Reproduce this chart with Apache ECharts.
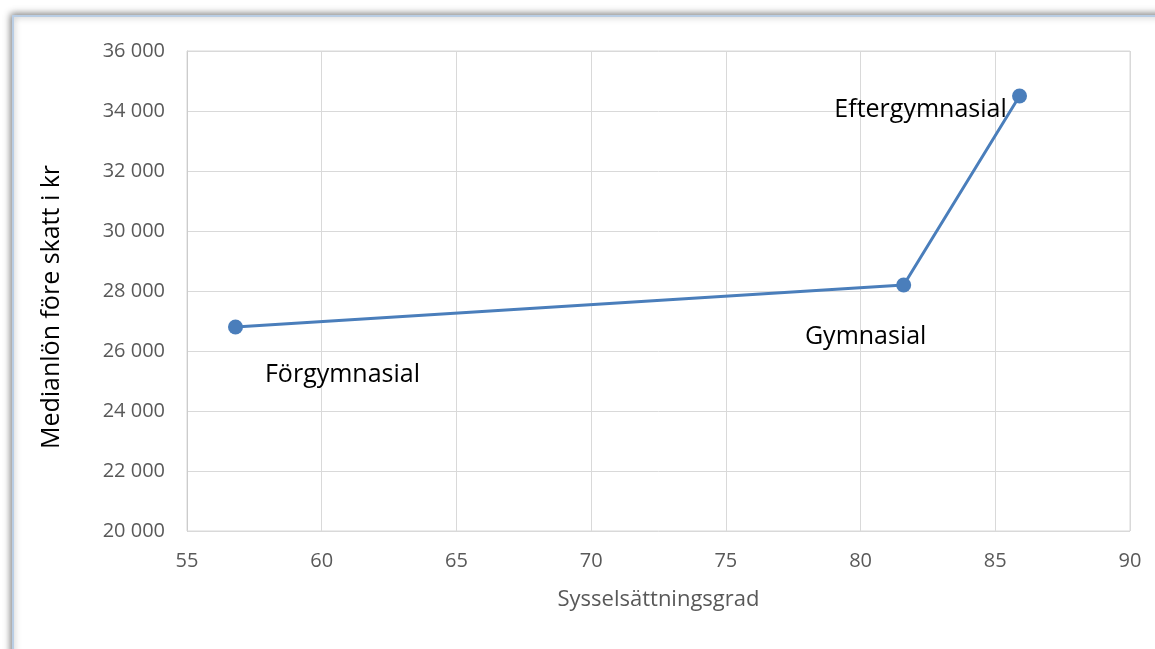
<!DOCTYPE html>
<html><head><meta charset="utf-8">
<script src="https://cdn.jsdelivr.net/npm/echarts@6/dist/echarts.min.js"></script>
<style>html,body{margin:0;padding:0;background:#fff}#c{width:1155px;height:649px}</style>
</head><body><div id="c"></div>
<script>
var names = ['Förgymnasial', 'Gymnasial', 'Eftergymnasial'];
var xValues = [56.8, 81.6, 85.9];
var yValues = [26800, 28200, 34500];
var xTitle = 'Sysselsättningsgrad';
var yTitle = 'Medianlön före skatt i kr';

var labelOffsets = [[107, 48], [-38, 52], [-99, 14]];
var data = names.map(function (n, i) {
  return {
    value: [xValues[i], yValues[i]], name: n,
    label: { show: true, position: 'inside', offset: labelOffsets[i], formatter: n,
      color: '#000', fontSize: 25, fontFamily: 'Open Sans' }
  };
});
var chart = echarts.init(document.getElementById('c'));
chart.setOption({
  animation: false,
  backgroundColor: '#fff',
  graphic: [{
    type: 'rect', z: -10, silent: true,
    shape: { x: 13, y: 16, width: 1200, height: 700 },
    style: { fill: '#fff', stroke: '#b9cde4', lineWidth: 2,
      shadowBlur: 7, shadowColor: 'rgba(0,0,0,0.5)', shadowOffsetX: -1, shadowOffsetY: -1 }
  }, {
    type: 'text', z: 10, silent: true,
    x: 52, y: 307, rotation: Math.PI / 2,
    style: { text: yTitle, fill: '#000', fontSize: 25, fontFamily: 'Open Sans',
      align: 'center', verticalAlign: 'middle' }
  }],
  grid: { left: 187, right: 25, top: 51, bottom: 118, show: true, borderColor: '#d9d9d9', borderWidth: 1, z: 1 },
  xAxis: {
    type: 'value', min: 55, max: 90, interval: 5,
    name: xTitle, nameLocation: 'middle', nameGap: 58,
    nameTextStyle: { color: '#595959', fontSize: 22, fontFamily: 'Open Sans' },
    axisLine: { show: false }, axisTick: { show: false },
    axisLabel: { color: '#595959', fontSize: 20, fontFamily: 'Open Sans', margin: 20 },
    splitLine: { show: true, lineStyle: { color: '#d9d9d9', width: 1 } }
  },
  yAxis: {
    type: 'value', min: 20000, max: 36000, interval: 2000,
    axisLine: { show: true, lineStyle: { color: '#bfbfbf', width: 1 } }, axisTick: { show: false },
    axisLabel: { color: '#595959', fontSize: 20, fontFamily: 'Open Sans', margin: 22,
      formatter: function (v) { return String(v).replace(/\B(?=(\d{3})+(?!\d))/g, ' '); } },
    splitLine: { show: true, lineStyle: { color: '#d9d9d9', width: 1 } }
  },
  series: [{
    type: 'line', data: data, symbol: 'circle', symbolSize: 15,
    lineStyle: { color: '#4a7ebb', width: 3 },
    itemStyle: { color: '#4a7ebb' }, z: 5
  }]
});
</script></body></html>
